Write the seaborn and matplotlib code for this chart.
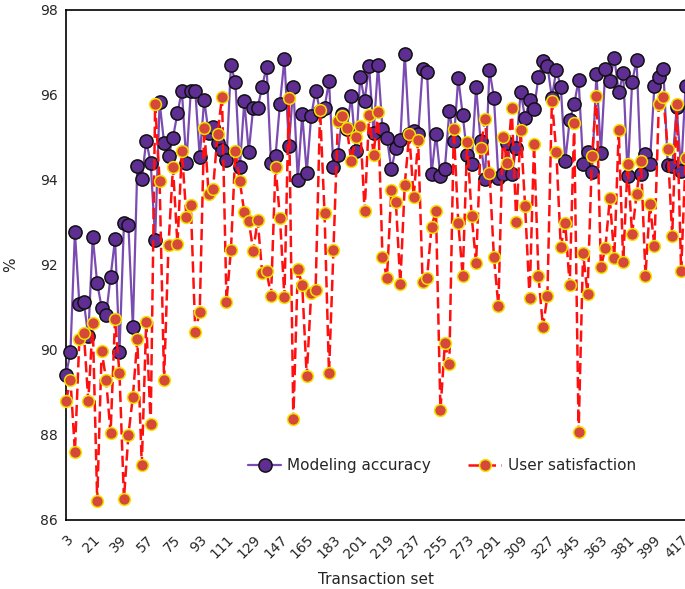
import numpy as np
import pandas as pd
import matplotlib
matplotlib.use("Agg")
import matplotlib.pyplot as plt
import seaborn as sns

# Transaction sets 3, 6, ..., 420
transaction_set = list(range(3, 421, 3))

modeling_accuracy = [
    89.4, 89.95, 92.78, 91.08, 91.12, 90.33, 92.66, 91.57, 91.0, 90.83,
    91.72, 92.61, 89.96, 92.98, 92.94, 90.53, 94.32, 94.03, 94.92, 94.4,
    92.6, 95.83, 94.88, 94.56, 95.0, 95.57, 96.1, 94.4, 96.1, 96.1,
    94.54, 95.88, 95.11, 95.25, 94.88, 94.7, 94.46, 96.7, 96.3, 94.3,
    95.85, 94.67, 95.7, 95.7, 96.2, 96.66, 94.4, 94.56, 95.8, 96.85,
    94.8, 96.2, 94.0, 95.55, 94.17, 95.5, 96.1, 95.63, 95.7, 96.32,
    94.31, 94.6, 95.55, 95.2, 95.97, 94.68, 96.43, 95.87, 96.68, 95.11,
    96.71, 95.2, 94.98, 94.25, 94.76, 94.93, 96.97, 95.09, 95.15, 95.08,
    96.62, 96.54, 94.14, 95.08, 94.09, 94.27, 95.63, 94.92, 96.4, 95.53,
    94.58, 94.38, 96.2, 94.92, 94.03, 96.59, 95.94, 94.05, 94.14, 94.88,
    94.13, 94.76, 96.08, 95.45, 95.88, 95.67, 96.43, 96.79, 96.69, 95.94,
    96.59, 96.2, 94.44, 95.41, 95.78, 96.35, 94.38, 94.66, 94.19, 96.5,
    94.64, 96.62, 96.32, 96.88, 96.06, 96.51, 94.09, 96.3, 96.83, 94.14,
    94.62, 94.38, 96.22, 96.42, 96.62, 94.36, 94.32, 95.72, 94.22, 96.22,
]

user_satisfaction = [
    88.8, 89.3, 87.6, 90.27, 90.41, 88.8, 90.63, 86.45, 89.98, 89.3,
    88.04, 90.73, 89.45, 86.5, 88.0, 88.9, 90.25, 87.3, 90.67, 88.25,
    95.8, 93.97, 89.3, 92.48, 94.3, 92.49, 94.68, 93.14, 93.42, 90.43,
    90.9, 95.23, 93.67, 93.8, 95.09, 95.96, 91.14, 92.35, 94.68, 93.97,
    93.24, 93.04, 92.33, 93.06, 91.82, 91.85, 91.28, 94.31, 93.11, 91.24,
    95.93, 88.37, 91.91, 91.52, 89.38, 91.34, 91.42, 95.65, 93.22, 89.46,
    92.35, 95.39, 95.51, 95.22, 94.44, 95.01, 95.27, 93.26, 95.53, 94.6,
    95.61, 92.19, 91.69, 93.77, 93.49, 91.56, 93.89, 95.08, 93.6, 94.93,
    91.61, 91.69, 92.9, 93.27, 88.58, 90.16, 89.68, 95.19, 93.0, 91.74,
    94.9, 93.16, 92.05, 94.76, 95.43, 94.17, 92.19, 91.04, 95.01, 94.4,
    95.69, 93.02, 95.17, 93.38, 91.22, 94.85, 91.74, 90.53, 91.28, 95.87,
    94.66, 92.43, 92.98, 91.52, 95.33, 88.06, 92.29, 91.32, 94.56, 95.98,
    91.95, 92.4, 93.57, 92.17, 95.17, 92.07, 94.38, 92.72, 93.67, 94.44,
    91.74, 93.43, 92.44, 95.8, 95.96, 94.72, 92.69, 95.8, 91.85, 94.52,
]

x_ticks = list(range(3, 418, 18))
y_ticks = [86, 88, 90, 92, 94, 96, 98]

df = pd.DataFrame({
    "Transaction set": transaction_set,
    "Modeling accuracy": modeling_accuracy,
    "User satisfaction": user_satisfaction,
})

sns.set_style("white")
plt.rcParams["font.family"] = ["DejaVu Sans"]

fig = plt.figure(figsize=(6.85, 5.89), dpi=100)
ax = fig.add_axes([66 / 685, 1 - 520 / 589, 1 - 66 / 685, (520 - 10) / 589])

sns.lineplot(
    data=df, x="Transaction set", y="Modeling accuracy", ax=ax,
    color="#7a4bb0", linewidth=1.6, marker="o", markersize=9.5,
    markerfacecolor="#5f2e93", markeredgecolor="#111111", markeredgewidth=1.1,
    label="Modeling accuracy", errorbar=None, sort=False, clip_on=False, zorder=3,
)
sns.lineplot(
    data=df, x="Transaction set", y="User satisfaction", ax=ax,
    color="#ff1010", linewidth=1.8, linestyle=(0, (4.5, 2)), marker="o", markersize=8.5,
    markerfacecolor="#d6483a", markeredgecolor="#f2e200", markeredgewidth=1.1,
    label="User satisfaction", errorbar=None, sort=False, clip_on=False, zorder=4,
)

ax.set_xlim(3, 419.6)
ax.set_ylim(86, 98)
ax.set_xticks(x_ticks)
ax.set_xticklabels([str(t) for t in x_ticks], rotation=45, ha="right",
                   rotation_mode="anchor", fontsize=10)
ax.set_yticks(y_ticks)
ax.set_yticklabels([str(t) for t in y_ticks], fontsize=10)
ax.tick_params(axis="x", direction="out", length=5, width=1, color="black", pad=4)
ax.tick_params(axis="y", direction="in", length=5, width=1, color="black", pad=6)

for side in ["left", "bottom", "top"]:
    ax.spines[side].set_visible(True)
    ax.spines[side].set_color("black")
    ax.spines[side].set_linewidth(1.2)
ax.spines["right"].set_visible(False)

ax.set_xlabel("Transaction set", fontsize=11, labelpad=8)
ax.set_ylabel("%", fontsize=11, labelpad=16)

ax.legend(loc="center", bbox_to_anchor=(0.607, 0.106), ncol=2, frameon=False,
          fontsize=11, handlelength=2.2, columnspacing=2.4, handletextpad=0.4)

fig.savefig("out.png", dpi=100)
